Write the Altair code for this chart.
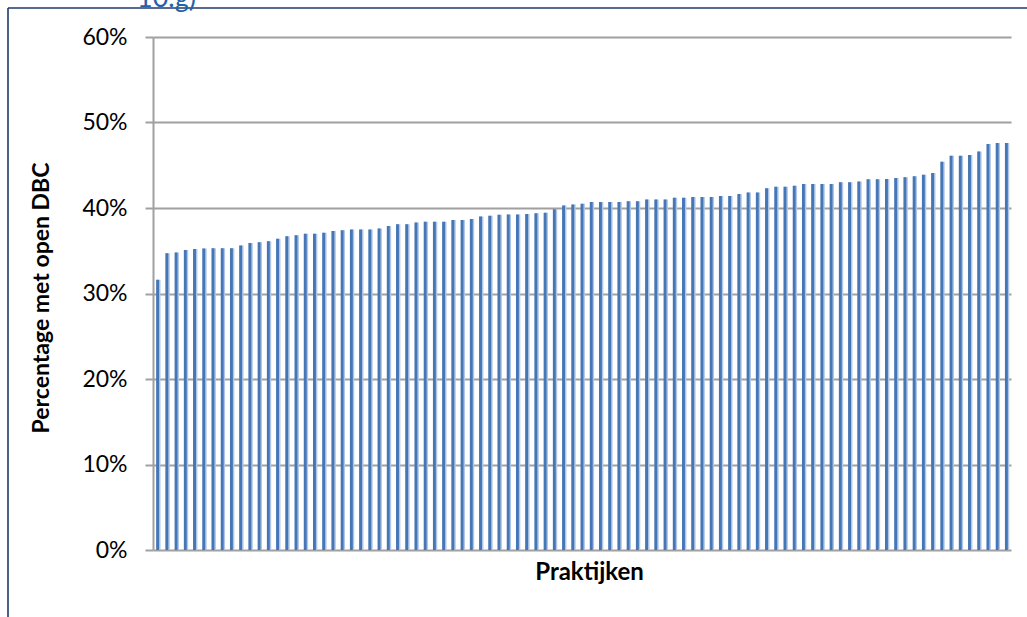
import altair as alt
import pandas as pd

# Share of patients with an open DBC per practice (percent), sorted ascending
share_open_dbc = [
    31.6, 34.7, 34.8, 35.1, 35.2, 35.25, 35.3, 35.3, 35.3, 35.6,
    35.9, 36.0, 36.1, 36.4, 36.7, 36.8, 37.0, 37.0, 37.1, 37.3,
    37.4, 37.5, 37.5, 37.5, 37.6, 37.9, 38.1, 38.1, 38.3, 38.4,
    38.4, 38.4, 38.6, 38.6, 38.7, 39.0, 39.1, 39.2, 39.25, 39.25,
    39.3, 39.4, 39.45, 39.85, 40.3, 40.4, 40.5, 40.7, 40.7, 40.7,
    40.7, 40.8, 40.8, 41.0, 41.0, 41.0, 41.2, 41.2, 41.3, 41.3,
    41.3, 41.4, 41.4, 41.65, 41.8, 41.8, 42.3, 42.5, 42.5, 42.6,
    42.8, 42.8, 42.8, 42.8, 43.0, 43.0, 43.1, 43.35, 43.35, 43.4,
    43.5, 43.6, 43.7, 43.9, 44.1, 45.4, 46.1, 46.1, 46.2, 46.6,
    47.5, 47.6, 47.6,
]
practice_rank = list(range(1, len(share_open_dbc) + 1))
y_ticks = [0, 10, 20, 30, 40, 50, 60]
y_title = "Percentage met open DBC"
x_title = "Praktijken"
caption_tail = "10.g)"

df = pd.DataFrame({"praktijk": practice_rank, "pct": share_open_dbc})
frame_df = pd.DataFrame({"k": [0]})

W, H = 858, 513
LEFT, TOP = 153, 37
GRID = "#A0A0A0"
FONT = "Lato"

x_enc = alt.X(
    "praktijk:O",
    scale=alt.Scale(paddingInner=0, paddingOuter=0),
    axis=alt.Axis(
        labels=False, ticks=False, domain=False, grid=False,
        title=x_title, titleFont=FONT, titleFontSize=24, titleFontWeight="bold",
        titleColor="black", titleX=436, titleY=22, titleBaseline="middle",
        titleAlign="center",
    ),
)
y_enc = alt.Y(
    "pct:Q",
    scale=alt.Scale(domain=[0, 60], nice=False, zero=True),
    axis=alt.Axis(
        values=y_ticks, labelExpr="datum.value + '%'",
        grid=True, gridColor=GRID, gridWidth=2,
        domain=True, domainColor=GRID, domainWidth=2,
        ticks=True, tickColor=GRID, tickWidth=2, tickSize=8,
        labelFont=FONT, labelFontSize=23, labelColor="black", labelPadding=18,
        title=y_title, titleFont=FONT, titleFontSize=23, titleFontWeight="bold",
        titleColor="black", titleX=-112, titleY=H / 2 + 4, titleBaseline="middle",
        titleAlign="center", titleAngle=270,
    ),
)

# Each bar: a pale highlight edge behind a darker blue body
bars_light = alt.Chart(df).mark_bar(size=4.0, xOffset=0.9, color="#AFC6E4").encode(x=x_enc, y=y_enc)
bars_dark = alt.Chart(df).mark_bar(size=2.9, xOffset=0.0, color="#4576B6").encode(x=x_enc, y=y_enc)

# Outer chart frame (left and top edges)
frame_v = alt.Chart(frame_df).mark_rule(color="#1F3A6E", strokeWidth=1.6).encode(
    x=alt.value(8 - LEFT), y=alt.value(8 - TOP), y2=alt.value(700)
)
frame_h = alt.Chart(frame_df).mark_rule(color="#1F3A6E", strokeWidth=1.6).encode(
    x=alt.value(8 - LEFT), x2=alt.value(1100), y=alt.value(8 - TOP)
)

# Tail of the caption line above the frame
caption = alt.Chart(frame_df).mark_text(
    font=FONT, fontSize=27, color="#2462A8", align="left", baseline="alphabetic"
).encode(x=alt.value(137 - LEFT), y=alt.value(7 - TOP), text=alt.value(caption_tail))

chart = (
    alt.layer(bars_light, bars_dark, frame_v, frame_h, caption)
    .properties(
        width=W, height=H, autosize="none",
        padding={"left": LEFT, "top": TOP, "right": 1027 - LEFT - W, "bottom": 617 - TOP - H},
        background="white",
    )
    .configure_view(stroke=None)
)

chart.save("out.html", embed_options={"renderer": "svg", "actions": False})
